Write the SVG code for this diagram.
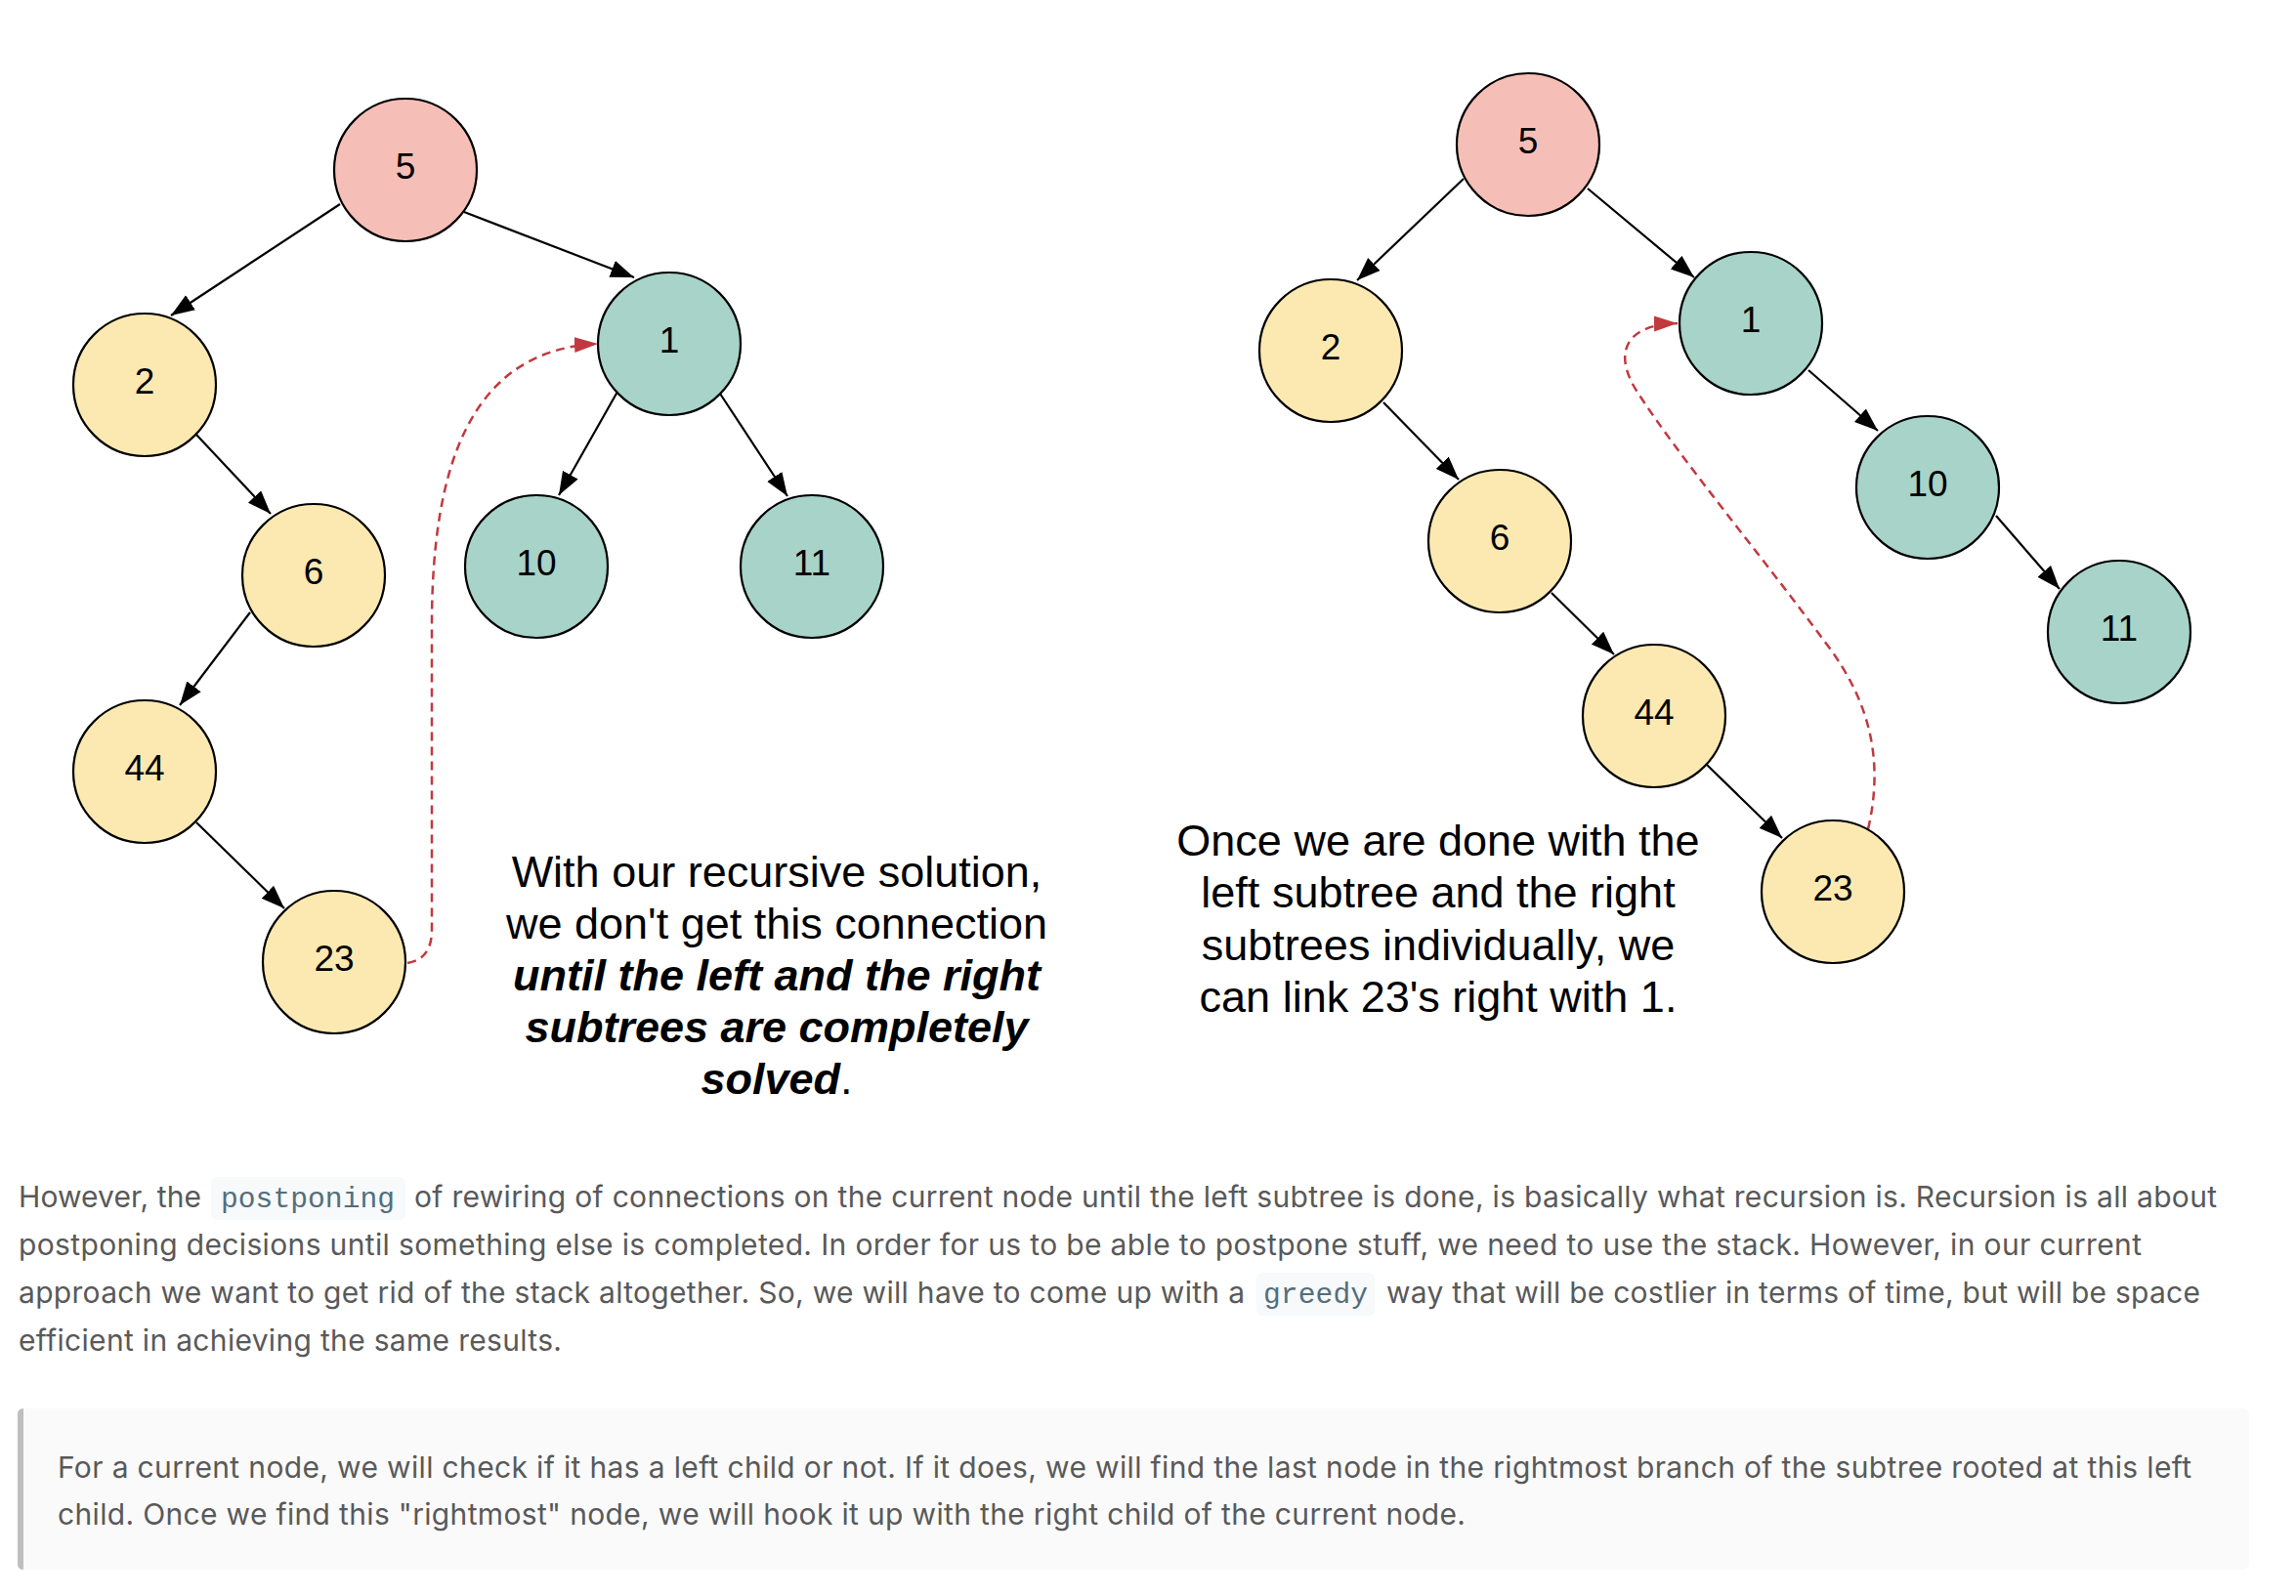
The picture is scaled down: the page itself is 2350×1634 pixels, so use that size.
<svg xmlns="http://www.w3.org/2000/svg" width="2350" height="1634" viewBox="0 0 2350 1634">
<style>
.node circle{stroke:#000;stroke-width:2.2}
.pink{fill:#f5bfb7}
.yel{fill:#fbe9b1}
.teal{fill:#a7d3c9}
.lbl{font-family:"Liberation Sans",Arial,sans-serif;font-size:37px;fill:#000;text-anchor:middle}
.edge{stroke:#000;stroke-width:2.2;fill:none;marker-end:url(#ah)}
.dash{stroke:#c1393e;stroke-width:2.5;fill:none;stroke-dasharray:9 6;marker-end:url(#ahr)}
.cap{font-family:"Liberation Sans",Arial,sans-serif;font-size:45px;fill:#000;text-anchor:middle}
.bi{font-weight:bold;font-style:italic}
.body{font-family:Inter,"Liberation Sans",Arial,sans-serif;font-size:30px;fill:#595959}
.code{font-family:"Liberation Mono","DejaVu Sans Mono",monospace;font-size:29.6px;fill:#546e7a}
.cbox{fill:#f7f9fa}
</style>
<defs>
<marker id="ah" markerUnits="userSpaceOnUse" markerWidth="26" markerHeight="20" refX="24" refY="9" orient="auto">
<path d="M0,0 L24,9 L0,18 z" fill="#000"/>
</marker>
<marker id="ahr" markerUnits="userSpaceOnUse" markerWidth="26" markerHeight="18" refX="24" refY="8" orient="auto">
<path d="M0,0 L24,8 L0,16 z" fill="#c1393e"/>
</marker>
</defs>
<rect width="2350" height="1634" fill="#fff"/>

<g id="connectors">
<line class="edge" x1="348" y1="209" x2="175" y2="323"/>
<line class="edge" x1="475" y1="217" x2="649" y2="284"/>
<line class="edge" x1="201" y1="445" x2="277" y2="526"/>
<line class="edge" x1="256" y1="627" x2="184" y2="722"/>
<line class="edge" x1="201" y1="842" x2="291" y2="930"/>
<line class="edge" x1="632" y1="401" x2="572" y2="507"/>
<line class="edge" x1="737" y1="403" x2="806" y2="508"/>
<path class="dash" d="M417,986 Q442,982 442,952 L442,640 C442,480 480,358 612,352"/>

<line class="edge" x1="1498" y1="183" x2="1389" y2="287"/>
<line class="edge" x1="1625" y1="193" x2="1734" y2="284"/>
<line class="edge" x1="1416" y1="412" x2="1493" y2="491"/>
<line class="edge" x1="1588" y1="607" x2="1652" y2="670"/>
<line class="edge" x1="1747" y1="783" x2="1824" y2="858"/>
<line class="edge" x1="1851" y1="379" x2="1922" y2="441"/>
<line class="edge" x1="2043" y1="528" x2="2108" y2="603"/>
<path class="dash" d="M1912,849 C1928,780 1915,720 1870,660 C1800,565 1720,470 1675,400 C1650,360 1665,332 1717,331"/>
</g>

<g id="L5" class="node"><circle class="pink" cx="415" cy="174" r="73"/><text class="lbl" x="415" y="183">5</text></g>
<g id="L2" class="node"><circle class="yel" cx="148" cy="394" r="73"/><text class="lbl" x="148" y="403">2</text></g>
<g id="L6" class="node"><circle class="yel" cx="321" cy="589" r="73"/><text class="lbl" x="321" y="598">6</text></g>
<g id="L44" class="node"><circle class="yel" cx="148" cy="790" r="73"/><text class="lbl" x="148" y="799">44</text></g>
<g id="L23" class="node"><circle class="yel" cx="342" cy="985" r="73"/><text class="lbl" x="342" y="994">23</text></g>
<g id="L1" class="node"><circle class="teal" cx="685" cy="352" r="73"/><text class="lbl" x="685" y="361">1</text></g>
<g id="L10" class="node"><circle class="teal" cx="549" cy="580" r="73"/><text class="lbl" x="549" y="589">10</text></g>
<g id="L11" class="node"><circle class="teal" cx="831" cy="580" r="73"/><text class="lbl" x="831" y="589">11</text></g>

<g id="R5" class="node"><circle class="pink" cx="1564" cy="148" r="73"/><text class="lbl" x="1564" y="157">5</text></g>
<g id="R2" class="node"><circle class="yel" cx="1362" cy="359" r="73"/><text class="lbl" x="1362" y="368">2</text></g>
<g id="R6" class="node"><circle class="yel" cx="1535" cy="554" r="73"/><text class="lbl" x="1535" y="563">6</text></g>
<g id="R44" class="node"><circle class="yel" cx="1693" cy="733" r="73"/><text class="lbl" x="1693" y="742">44</text></g>
<g id="R23" class="node"><circle class="yel" cx="1876" cy="913" r="73"/><text class="lbl" x="1876" y="922">23</text></g>
<g id="R1" class="node"><circle class="teal" cx="1792" cy="331" r="73"/><text class="lbl" x="1792" y="340">1</text></g>
<g id="R10" class="node"><circle class="teal" cx="1973" cy="499" r="73"/><text class="lbl" x="1973" y="508">10</text></g>
<g id="R11" class="node"><circle class="teal" cx="2169" cy="647" r="73"/><text class="lbl" x="2169" y="656">11</text></g>

<g id="caption-left">
<text class="cap" x="795" y="908">With our recursive solution,</text>
<text class="cap" x="795" y="961">we don't get this connection</text>
<text class="cap bi" x="795" y="1014">until the left and the right</text>
<text class="cap bi" x="795" y="1067">subtrees are completely</text>
<text class="cap" x="795" y="1120"><tspan class="bi">solved</tspan>.</text>
</g>

<g id="caption-right">
<text class="cap" x="1472" y="876">Once we are done with the</text>
<text class="cap" x="1472" y="929">left subtree and the right</text>
<text class="cap" x="1472" y="983">subtrees individually, we</text>
<text class="cap" x="1472" y="1036">can link 23's right with 1.</text>
</g>

<g id="paragraph">
<rect class="cbox" x="216" y="1205" width="199" height="44" rx="6"/>
<rect class="cbox" x="1286" y="1303" width="121" height="44" rx="6"/>
<text class="body" x="19" y="1236" textLength="187" lengthAdjust="spacing">However, the</text>
<text class="code" x="226" y="1236" textLength="178" lengthAdjust="spacing">postponing</text>
<text class="body" x="424" y="1236" textLength="1845" lengthAdjust="spacing">of rewiring of connections on the current node until the left subtree is done, is basically what recursion is. Recursion is all about</text>
<text class="body" x="19" y="1285" textLength="2173" lengthAdjust="spacing">postponing decisions until something else is completed. In order for us to be able to postpone stuff, we need to use the stack. However, in our current</text>
<text class="body" x="19" y="1334" textLength="1255" lengthAdjust="spacing">approach we want to get rid of the stack altogether. So, we will have to come up with a</text>
<text class="code" x="1293" y="1334" textLength="107" lengthAdjust="spacing">greedy</text>
<text class="body" x="1419" y="1334" textLength="833" lengthAdjust="spacing">way that will be costlier in terms of time, but will be space</text>
<text class="body" x="19" y="1383" textLength="556" lengthAdjust="spacing">efficient in achieving the same results.</text>
</g>

<g id="blockquote">
<rect x="18" y="1442" width="2284" height="165" rx="6" fill="#fafafa"/>
<path d="M24,1442 L24,1607 Q18,1607 18,1601 L18,1448 Q18,1442 24,1442 z" fill="#bfbfbf"/>
<text class="body" x="59" y="1513" textLength="2184" lengthAdjust="spacing">For a current node, we will check if it has a left child or not. If it does, we will find the last node in the rightmost branch of the subtree rooted at this left</text>
<text class="body" x="59" y="1561" textLength="1441" lengthAdjust="spacing">child. Once we find this "rightmost" node, we will hook it up with the right child of the current node.</text>
</g>
</svg>
